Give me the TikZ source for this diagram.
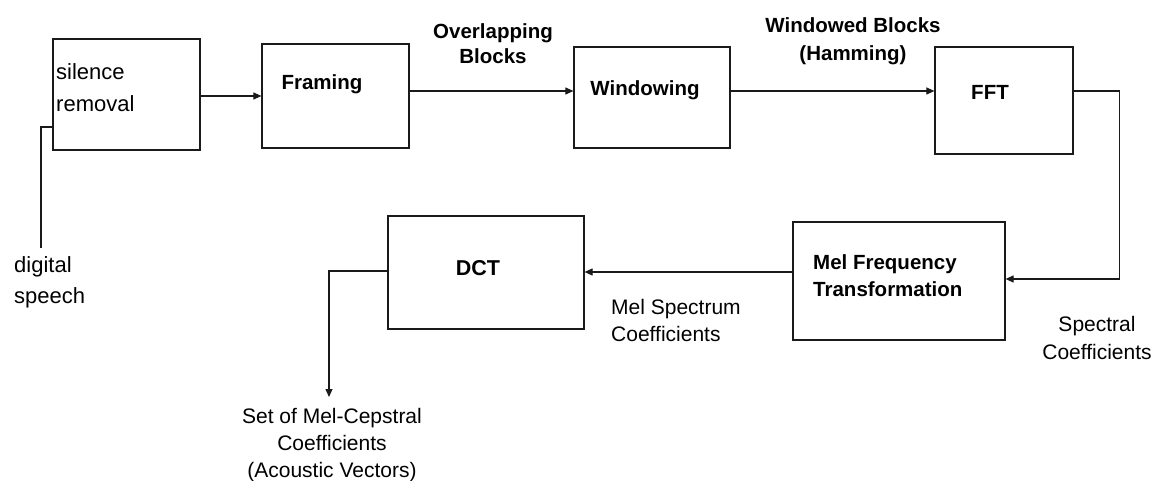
\documentclass[tikz,border=0pt]{standalone}
\usepackage{fontspec}
\setmainfont{Liberation Sans}
\usetikzlibrary{arrows.meta}
\definecolor{ink}{HTML}{1A1A1A}
\begin{document}
\begin{tikzpicture}[x=1pt,y=-1pt,
  box/.style={draw=ink,line width=1.2pt,rectangle,inner sep=0pt},
  conn/.style={draw=ink,line width=1.1pt},
  arr/.style={conn,-{Triangle[length=8pt,width=7pt]}},
  boxtxt/.style={text=black,font=\fontsize{20.5}{27}\selectfont\bfseries,inner sep=0pt},
  lbl/.style={text=black,inner sep=0pt,align=center}]
\useasboundingbox[fill=white] (0,0) rectangle (1161,481);

% boxes
\node[box,minimum width=147pt,minimum height=111pt] (sr) at (126.5,94.5) {};
\node[box,minimum width=147pt,minimum height=104pt] (fr) at (335.5,96) {};
\node[box,minimum width=156pt,minimum height=101pt] (win) at (652,97.5) {};
\node[box,minimum width=138pt,minimum height=107pt] (fft) at (1004,100.5) {};
\node[box,minimum width=212pt,minimum height=118pt] (mel) at (899,281) {};
\node[box,minimum width=196pt,minimum height=113pt] (dct) at (486,272.5) {};

% box texts
\node[lbl,anchor=west,align=left,font=\fontsize{22}{32}\selectfont] (srt) at (56,88) {silence\\removal};
\node[boxtxt] (frt) at (322,84) {Framing};
\node[boxtxt] (wint) at (645,90) {Windowing};
\node[boxtxt] (fftt) at (990,92) {FFT};
\node[boxtxt,anchor=west,align=left] (melt) at (813,276) {Mel Frequency\\Transformation};
\node[boxtxt,font=\fontsize{21.5}{27}\selectfont\bfseries] (dctt) at (478,268) {DCT};

% free ends
\coordinate (dsp) at (41,248);
\coordinate (outp) at (329,397);

% connectors
\draw[conn] ([yshift=-32.5pt]sr.west) -| (dsp);
\draw[arr] (sr.east |- fr.west) -- (fr.west);
\draw[arr] ([yshift=5pt]fr.east) -- ([yshift=5pt]fr.east -| win.west);
\draw[arr] ([yshift=6.5pt]win.east) -- ([yshift=6.5pt]win.east -| fft.west);
\draw[arr] ([yshift=9.5pt]fft.east) -- ++(46,0) |- ([yshift=2pt]mel.east);
\draw[arr] ([yshift=9pt]mel.west) -- ([yshift=9pt]mel.west -| dct.east);
\draw[arr] ([yshift=1.5pt]dct.west) -| (outp);

% connector labels
\node[lbl,font=\fontsize{20.5}{25}\selectfont\bfseries] (ovl) at (493,44) {Overlapping\\Blocks};
\node[lbl,font=\fontsize{20.5}{28}\selectfont\bfseries] (wbl) at (853,41) {Windowed Blocks\\(Hamming)};
\node[lbl,font=\fontsize{21}{28}\selectfont] (spc) at (1097,338) {Spectral\\Coefficients};
\node[lbl,anchor=west,align=left,font=\fontsize{21}{27}\selectfont] (msc) at (611,320.5) {Mel Spectrum\\Coefficients};
\node[lbl,font=\fontsize{21}{27}\selectfont] (mcc) at (332,445) {Set of Mel-Cepstral\\Coefficients\\(Acoustic Vectors)};
\node[lbl,anchor=west,align=left,font=\fontsize{22}{31}\selectfont] (dsl) at (14,282.5) {digital\\speech};
\end{tikzpicture}
\end{document}
